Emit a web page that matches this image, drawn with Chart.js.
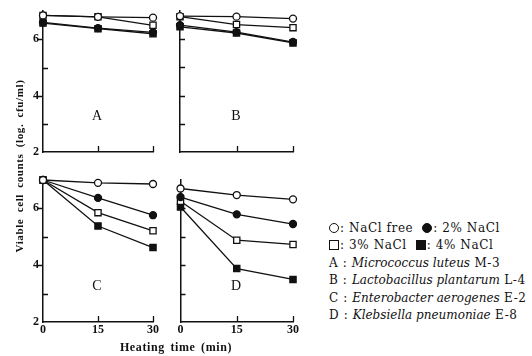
<!DOCTYPE html>
<html>
<head>
<meta charset="utf-8">
<script src="https://cdn.jsdelivr.net/npm/chart.js@4"></script>
<style>
  body { margin: 0; background: #fff; }
  #wrap { position: relative; width: 532px; height: 356px; overflow: hidden; font-family: "Liberation Serif", serif; color: #111; }
  canvas { position: absolute; }
  .lbl { position: absolute; white-space: nowrap; }
  .ytitle { left: -91px; top: 160px; width: 220px; text-align: center; transform: rotate(-90deg); font-weight: bold; font-size: 11px; letter-spacing: 0.6px; word-spacing: 3px; }
  .xtitle { left: 76px; top: 340px; width: 200px; text-align: center; font-weight: bold; font-size: 12px; letter-spacing: 0.6px; word-spacing: 2px; }
  .panel { font-size: 14px; width: 20px; text-align: center; }
  .legend { left: 329px; top: 220px; font-family: "DejaVu Serif", serif; font-size: 12px; line-height: 17.4px; letter-spacing: 0.6px; }
  .legend i { font-style: italic; letter-spacing: 0; }
  .sym { display: inline-block; width: 8px; height: 8px; border: 1.4px solid #111; vertical-align: -1px; margin-right: 1px; }
  .sym.c { border-radius: 50%; }
  .sym.f { background: #111; }
</style>
</head>
<body>
<div id="wrap">
  <canvas id="pA" width="165" height="165" style="left:0;top:0"></canvas>
  <canvas id="pB" width="140" height="165" style="left:165px;top:0"></canvas>
  <canvas id="pC" width="165" height="191" style="left:0;top:165px"></canvas>
  <canvas id="pD" width="140" height="191" style="left:165px;top:165px"></canvas>

  <div class="lbl ytitle">Viable cell counts (log. cfu/ml)</div>
  <div class="lbl xtitle">Heating time (min)</div>

  <div class="lbl panel" style="left:87px;top:108px">A</div>
  <div class="lbl panel" style="left:226px;top:108px">B</div>
  <div class="lbl panel" style="left:87px;top:278px">C</div>
  <div class="lbl panel" style="left:226px;top:278px">D</div>

  <div class="lbl legend">
    <div><span class="sym c"></span>: NaCl free&nbsp;&nbsp;<span class="sym c f"></span>: 2% NaCl</div>
    <div><span class="sym"></span>: 3% NaCl&nbsp;&nbsp;<span class="sym f"></span>: 4% NaCl</div>
    <div>A : <i>Micrococcus luteus</i> M-3</div>
    <div>B : <i>Lactobacillus plantarum</i> L-4</div>
    <div>C : <i>Enterobacter aerogenes</i> E-2</div>
    <div>D : <i>Klebsiella pneumoniae</i> E-8</div>
  </div>
</div>

<script>
// heating time (min) and NaCl levels
const heatingTime = [0, 15, 30];
const naclLevels = ['NaCl free', '2% NaCl', '3% NaCl', '4% NaCl'];

// viable counts, log cfu/ml, one array per NaCl level: free, 2%, 3%, 4%
const panelA = [
    [6.85, 6.80, 6.77],
    [6.60, 6.40, 6.25],
    [6.85, 6.80, 6.50],
    [6.58, 6.38, 6.20]
];
const panelB = [
    [6.82, 6.80, 6.73],
    [6.50, 6.25, 5.90],
    [6.80, 6.52, 6.41],
    [6.44, 6.22, 5.87]
];
const panelC = [
    [7.00, 6.90, 6.86],
    [7.00, 6.37, 5.76],
    [7.00, 5.85, 5.21],
    [7.00, 5.38, 4.62]
];
const panelD = [
    [6.70, 6.47, 6.32],
    [6.40, 5.79, 5.45],
    [6.25, 4.88, 4.73],
    [6.05, 3.88, 3.50]
];

// marker look per NaCl level
const markerStyle = ['circle', 'circle', 'rect', 'rect'],
    markerFill = ['#fff', '#111', '#fff', '#111'],
    markerSize = [3.5, 3.5, 4.4, 4.4];

Chart.defaults.font.family = '"Liberation Serif", serif';
Chart.defaults.color = '#111';

// little tick marks, some pointing into the plot like the printed figure
const tickMarks = {
    id: 'tickMarks',
    afterDraw(chart, args, opts) {
        const ctx = chart.ctx, x = chart.scales.x, y = chart.scales.y,
            area = chart.chartArea;
        ctx.save();
        ctx.strokeStyle = '#111';
        ctx.lineWidth = 1.3;
        ctx.beginPath();
        [3, 4, 5, 6].forEach((v) => {
            const py = Math.round(y.getPixelForValue(v)) + 0.5;
            const out = opts.outer && v % 2 === 0;
            ctx.moveTo(area.left, py);
            ctx.lineTo(out ? area.left - 5 : area.left + 5, py);
        });
        [15, 30].forEach((v) => {
            const px = Math.round(x.getPixelForValue(v)) + 0.5;
            ctx.moveTo(px, area.bottom);
            ctx.lineTo(px, area.bottom - 6);
        });
        ctx.stroke();
        ctx.restore();
    }
};

function makePanel(id, series, o) {
    const datasets = series.map((vals, i) => ({
        label: naclLevels[i],
        data: vals.map((v, k) => ({ x: heatingTime[k], y: v })),
        borderColor: '#111',
        borderWidth: 1.3,
        pointStyle: markerStyle[i],
        pointRadius: markerSize[i],
        pointBackgroundColor: markerFill[i],
        pointBorderColor: '#111',
        pointBorderWidth: 1.3,
        tension: 0,
        clip: false
    }));

    return new Chart(document.getElementById(id), {
        type: 'line',
        data: { datasets },
        plugins: [tickMarks],
        options: {
            responsive: false,
            animation: false,
            devicePixelRatio: 1,
            layout: { padding: { top: o.top, right: o.right, left: 0, bottom: 0 } },
            plugins: {
                legend: { display: false },
                tooltip: { enabled: false },
                tickMarks: { outer: o.yLabels }
            },
            scales: {
                x: {
                    type: 'linear',
                    min: 0,
                    max: 30,
                    afterFit: (s) => { s.height = o.xHeight; },
                    grid: { display: false, drawTicks: false },
                    border: { display: true, color: '#111', width: 1.5 },
                    ticks: {
                        display: o.xLabels,
                        stepSize: 15,
                        maxRotation: 0,
                        padding: 1,
                        color: '#111',
                        font: { size: 12, weight: 'bold' }
                    }
                },
                y: {
                    min: 2,
                    max: 7,
                    afterFit: (s) => { s.width = o.yWidth; },
                    grid: { display: false, drawTicks: false },
                    border: { display: true, color: '#111', width: 1.5 },
                    ticks: {
                        display: o.yLabels,
                        stepSize: 1,
                        padding: 4,
                        color: '#111',
                        font: { size: 12, weight: 'bold' },
                        callback: (v) => (v % 2 === 0 ? v : '')
                    }
                }
            }
        }
    });
}

makePanel('pA', panelA, { top: 11, right: 12, yWidth: 43, xHeight: 13, xLabels: false, yLabels: true });
makePanel('pB', panelB, { top: 11, right: 12, yWidth: 15, xHeight: 13, xLabels: false, yLabels: false });
makePanel('pC', panelC, { top: 15, right: 12, yWidth: 43, xHeight: 34, xLabels: true, yLabels: true });
makePanel('pD', panelD, { top: 15, right: 12, yWidth: 15.5, xHeight: 34, xLabels: true, yLabels: false });
</script>
</body>
</html>
